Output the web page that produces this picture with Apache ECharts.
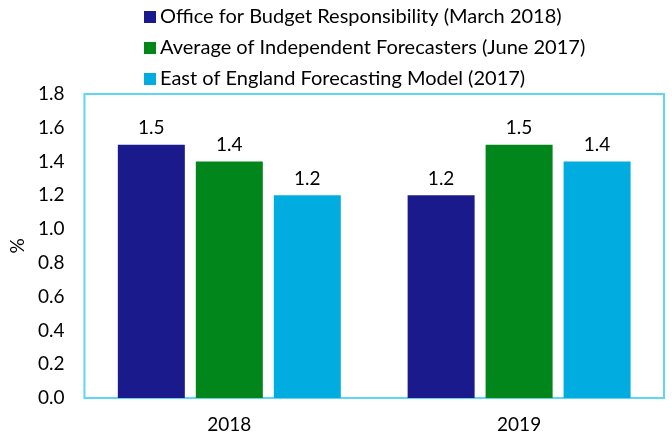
<!DOCTYPE html>
<html>
<head>
<meta charset="utf-8">
<script src="https://cdn.jsdelivr.net/npm/echarts@6/dist/echarts.min.js"></script>
<style>
html,body{margin:0;padding:0;background:#fff;}
#chart{width:672px;height:436px;}
</style>
</head>
<body>
<div id="chart"></div>
<script>
const categories = ['2018', '2019'];
const seriesNames = [
  'Office for Budget Responsibility (March 2018)',
  'Average of Independent Forecasters (June 2017)',
  'East of England Forecasting Model (2017)'
];
const obrValues = [1.5, 1.2];
const independentValues = [1.4, 1.5];
const eefmValues = [1.2, 1.4];
const yTicks = ['0.0','0.2','0.4','0.6','0.8','1.0','1.2','1.4','1.6','1.8'];
const colors = ['#1a1a8c', '#00861a', '#00ace0'];

const FONT = 'Lato';
const chart = echarts.init(document.getElementById('chart'), null, {renderer: 'canvas'});
const valuesList = [obrValues, independentValues, eefmValues];

chart.setOption({
  animation: false,
  textStyle: {fontFamily: FONT},
  legend: {
    orient: 'vertical',
    left: 139,
    top: 2,
    itemWidth: 12,
    itemHeight: 12,
    itemGap: 11,
    icon: 'rect',
    data: seriesNames,
    textStyle: {fontFamily: FONT, fontSize: 20, color: '#000', lineHeight: 20, padding: [0,0,0,-1]}
  },
  grid: {
    left: 82, top: 94, right: 8, bottom: 38,
    show: true, borderColor: '#5fd6f7', borderWidth: 2, backgroundColor: '#fff',
    containLabel: false
  },
  xAxis: {
    type: 'category',
    data: categories,
    axisLine: {show: false},
    axisTick: {show: false},
    axisLabel: {fontFamily: FONT, fontSize: 19, color: '#000', margin: 17}
  },
  yAxis: {
    type: 'value',
    min: 0, max: 1.8, interval: 0.2,
    name: '%',
    nameLocation: 'middle',
    nameGap: 57,
    nameRotate: 90,
    nameTextStyle: {fontFamily: FONT, fontSize: 19, color: '#000'},
    splitLine: {show: false},
    axisLine: {show: false},
    axisTick: {show: false},
    axisLabel: {
      fontFamily: FONT, fontSize: 19, color: '#000', margin: 20,
      formatter: v => yTicks[Math.round(v / 0.2)]
    }
  },
  series: seriesNames.map((name, i) => ({
    name: name,
    type: 'bar',
    data: valuesList[i],
    barWidth: 67,
    barGap: '16.4%',
    itemStyle: {color: colors[i]},
    label: {
      show: true, position: 'top', distance: 7,
      fontFamily: FONT, fontSize: 19, color: '#000',
      formatter: p => p.value.toFixed(1)
    }
  }))
});
</script>
</body>
</html>
